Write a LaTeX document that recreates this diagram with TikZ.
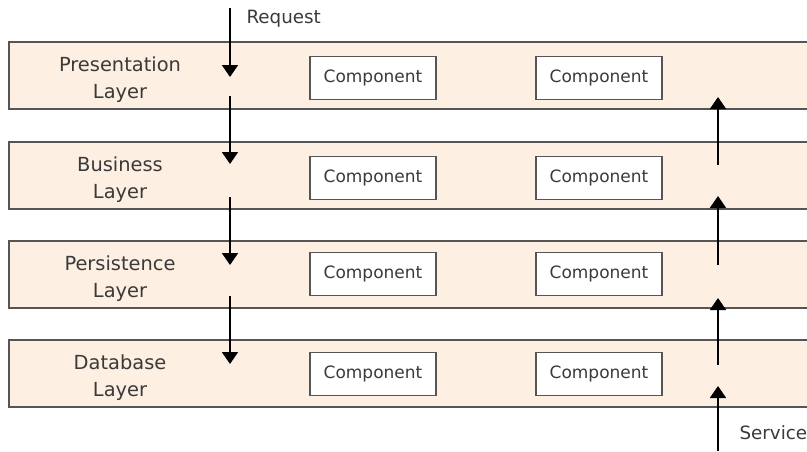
\documentclass[tikz,border=0pt]{standalone}
\usepackage{fontspec}
\setmainfont{DejaVu Sans}
\usetikzlibrary{arrows.meta}
\definecolor{bandfill}{HTML}{FDEFE2}
\definecolor{edge}{HTML}{555555}
\definecolor{txt}{HTML}{3A3A3A}
\tikzset{
  comp/.style={draw=edge, line width=1.1pt, fill=white, minimum width=126pt, minimum height=43pt, inner sep=0pt, font=\fontsize{17}{19}\selectfont, text=txt},
  lbl/.style={align=center, font=\fontsize{19.4}{27}\selectfont, text=txt},
  tag/.style={font=\fontsize{18.3}{20}\selectfont, text=txt, anchor=west},
  flow/.style={line width=1.9pt, -{Triangle[length=12pt,width=16pt]}},
}
\begin{document}
\begin{tikzpicture}[x=1pt,y=-1pt]
\useasboundingbox (0,0) rectangle (807,451);
% layer bands, open on the right
\foreach \t/\n in {42/pres,142/bus,241/pers,340/db}{
  \fill[bandfill] (9,\t) rectangle (810,\t+67);
  \draw[edge, line width=1.6pt] (812,\t) -- (9,\t) -- (9,\t+67) -- (812,\t+67);
  \coordinate (\n) at (9,\t);
}
% layer names
\node[lbl] (lp) at (120,80) {Presentation\\Layer};
\node[lbl] (lb) at (120,180) {Business\\Layer};
\node[lbl] (lr) at (120,279) {Persistence\\Layer};
\node[lbl] (ld) at (120,378) {Database\\Layer};
% components
\foreach \c/\n in {78/p,178/b,274/r,374/d}{
  \node[comp] (\n1) at (373,\c) {Component};
  \node[comp] (\n2) at (599,\c) {Component};
}
% request path going down
\coordinate (r0) at (230,8);   \coordinate (r1) at (230,77);
\coordinate (r2) at (230,96);  \coordinate (r3) at (230,164);
\coordinate (r4) at (230,197); \coordinate (r5) at (230,265);
\coordinate (r6) at (230,296); \coordinate (r7) at (230,364);
\draw[flow] (r0) -- (r1);
\draw[flow] (r2) -- (r3);
\draw[flow] (r4) -- (r5);
\draw[flow] (r6) -- (r7);
% service path going up
\coordinate (s0) at (718,451); \coordinate (s1) at (718,386);
\coordinate (s2) at (718,365); \coordinate (s3) at (718,298);
\coordinate (s4) at (718,265); \coordinate (s5) at (718,196);
\coordinate (s6) at (718,165); \coordinate (s7) at (718,97);
\draw[flow] (s0) -- (s1);
\draw[flow] (s2) -- (s3);
\draw[flow] (s4) -- (s5);
\draw[flow] (s6) -- (s7);
\node[tag] (req) at (243,19) {Request};
\node[tag] (svc) at (736,433) {Service};
\end{tikzpicture}
\end{document}
